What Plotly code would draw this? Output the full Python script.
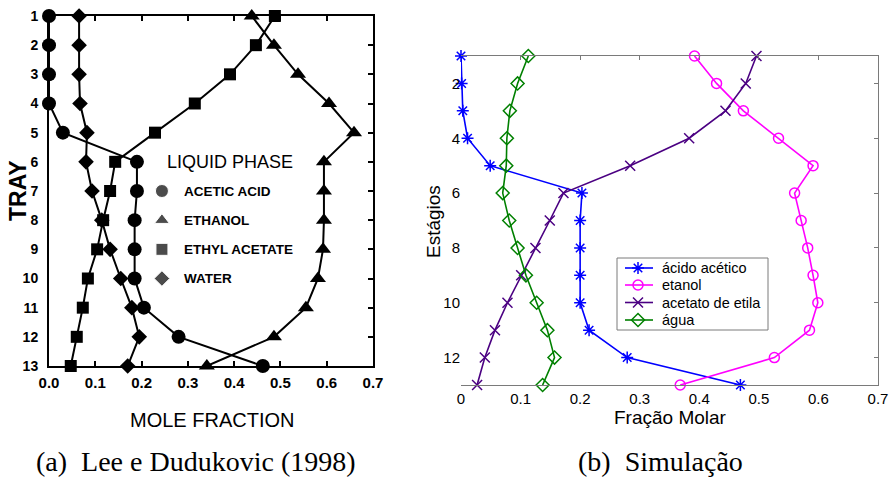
import plotly.graph_objects as go

# ---------------------------------------------------------------------------
# Data
# ---------------------------------------------------------------------------
trays = list(range(1, 14))

# (a) Lee e Dudukovic (1998) - liquid phase mole fractions per tray
lit_acetic_acid = [0.0, 0.0, 0.0, 0.0, 0.030, 0.190, 0.190, 0.185, 0.185, 0.185, 0.205, 0.280, 0.462]
lit_ethanol = [0.438, 0.486, 0.538, 0.605, 0.659, 0.594, 0.594, 0.594, 0.592, 0.581, 0.555, 0.486, 0.341]
lit_ethyl_acetate = [0.488, 0.447, 0.391, 0.315, 0.229, 0.143, 0.132, 0.117, 0.104, 0.084, 0.073, 0.060, 0.047]
lit_water = [0.065, 0.065, 0.065, 0.067, 0.082, 0.080, 0.093, 0.114, 0.132, 0.155, 0.179, 0.195, 0.170]

# (b) Simulação - fração molar por estágio
sim_acido_acetico = [0.0, 0.001, 0.003, 0.011, 0.049, 0.203, 0.200, 0.200, 0.200, 0.200, 0.215, 0.279, 0.469]
sim_etanol = [0.392, 0.429, 0.474, 0.533, 0.591, 0.560, 0.571, 0.582, 0.591, 0.599, 0.585, 0.526, 0.368]
sim_acetato_etila = [0.496, 0.478, 0.444, 0.383, 0.284, 0.172, 0.149, 0.125, 0.101, 0.078, 0.057, 0.040, 0.027]
sim_agua = [0.113, 0.095, 0.082, 0.077, 0.076, 0.070, 0.081, 0.095, 0.109, 0.127, 0.145, 0.157, 0.137]

x_ticks = [0.0, 0.1, 0.2, 0.3, 0.4, 0.5, 0.6, 0.7]
x_ticklabels_a = ["0.0", "0.1", "0.2", "0.3", "0.4", "0.5", "0.6", "0.7"]
x_ticklabels_b = ["0", "0.1", "0.2", "0.3", "0.4", "0.5", "0.6", "0.7"]
y_ticks_b = [2, 4, 6, 8, 10, 12]

lit_names = ["ACETIC ACID", "ETHANOL", "ETHYL ACETATE", "WATER"]
lit_symbols = ["circle", "triangle-up", "square", "diamond"]
lit_sizes = [14, 14, 12, 12]
lit_series = [lit_acetic_acid, lit_ethanol, lit_ethyl_acetate, lit_water]
lit_legend_rows = [7, 8, 9, 10]

sim_names = ["ácido acético", "etanol", "acetato de etila", "água"]
sim_symbols = ["asterisk-open", "circle-open", "x-thin-open", "diamond-open"]
sim_colors = ["#0000ff", "#ff00ff", "#4b0082", "#008000"]
sim_series = [sim_acido_acetico, sim_etanol, sim_acetato_etila, sim_agua]

SANS = "Liberation Sans, Arial, sans-serif"
SERIF = "Liberation Serif, Times New Roman, serif"
W, H = 890, 477


def px(x):
    return x / W


def py(y):
    return 1 - y / H


fig = go.Figure()

# ---------------------------------------------------------------------------
# Panel (a)
# ---------------------------------------------------------------------------
for vals, sym, size in zip(lit_series, lit_symbols, lit_sizes):
    fig.add_trace(go.Scatter(
        x=vals, y=trays, mode="lines+markers", xaxis="x", yaxis="y",
        line=dict(color="black", width=2),
        marker=dict(symbol=sym, size=size, color="black"),
        showlegend=False, cliponaxis=False, hoverinfo="skip",
    ))

# key inside panel (a)
fig.add_trace(go.Scatter(
    x=[0.244] * 4, y=lit_legend_rows, mode="markers", xaxis="x", yaxis="y",
    marker=dict(symbol=lit_symbols, size=[13, 13, 12, 12], color="black"),
    showlegend=False, hoverinfo="skip",
))
# overlay axis carrying the right-hand tick marks of panel (a)
fig.add_trace(go.Scatter(x=[None], y=[None], xaxis="x", yaxis="y3",
                         showlegend=False, hoverinfo="skip"))

# ---------------------------------------------------------------------------
# Panel (b)
# ---------------------------------------------------------------------------
for vals, name, sym, col in zip(sim_series, sim_names, sim_symbols, sim_colors):
    fig.add_trace(go.Scatter(
        x=vals, y=trays, mode="lines+markers", name=name, xaxis="x2", yaxis="y2",
        line=dict(color=col, width=1.6),
        marker=dict(symbol=sym, size=10, color=col, line=dict(color=col, width=1.5)),
        cliponaxis=False, hoverinfo="skip", showlegend=False,
    ))
# overlay axes carrying the top / right tick marks of panel (b)
fig.add_trace(go.Scatter(x=[None], y=[None], xaxis="x3", yaxis="y4",
                         showlegend=False, hoverinfo="skip"))

# legend box of panel (b): its own small coordinate frame (box units = pixels)
LEG_BOX = (617, 258, 768, 330)  # left, top, right, bottom
leg_w = LEG_BOX[2] - LEG_BOX[0]
leg_h = LEG_BOX[3] - LEG_BOX[1]
leg_rows = [10, 27, 44.5, 62]
for row, name, sym, col in zip(leg_rows, sim_names, sim_symbols, sim_colors):
    fig.add_trace(go.Scatter(
        x=[8, 36], y=[row, row], mode="lines", xaxis="x5", yaxis="y5",
        line=dict(color=col, width=1.6), showlegend=False, hoverinfo="skip"))
    fig.add_trace(go.Scatter(
        x=[21], y=[row], mode="markers", xaxis="x5", yaxis="y5",
        marker=dict(symbol=sym, size=10, color=col, line=dict(color=col, width=1.5)),
        showlegend=False, hoverinfo="skip"))

dom_xa = [px(49), px(373)]
dom_ya = [py(366), py(16)]
dom_xb = [px(461), px(878)]
dom_yb = [py(385), py(56)]
grey = "#7a7a7a"

fig.update_layout(
    width=W, height=H,
    margin=dict(l=0, r=0, t=0, b=0, autoexpand=False),
    paper_bgcolor="white", plot_bgcolor="rgba(0,0,0,0)",
    font=dict(family=SANS, color="black"),
    showlegend=False,
    xaxis=dict(
        domain=dom_xa, anchor="y", range=[0, 0.7], automargin=False,
        tickmode="array", tickvals=x_ticks, ticktext=x_ticklabels_a,
        ticks="inside", ticklen=5, tickwidth=1.5, tickcolor="black",
        showline=True, linecolor="black", linewidth=2, mirror="ticks",
        showgrid=False, zeroline=False, ticklabelstandoff=2,
        tickfont=dict(family=SANS, size=15, weight="bold", color="black"),
    ),
    yaxis=dict(
        domain=dom_ya, anchor="x", range=[13, 1], automargin=False,
        tickmode="array", tickvals=trays,
        ticks="", showline=True, linecolor="black", linewidth=2, mirror=True,
        showgrid=False, zeroline=False, ticklabelstandoff=6,
        tickfont=dict(family=SANS, size=14, weight="bold", color="black"),
    ),
    yaxis3=dict(
        overlaying="y", anchor="x", side="right", range=[13, 1], automargin=False,
        tickmode="array", tickvals=trays, ticks="inside", ticklen=5,
        tickwidth=1.5, tickcolor="black", showticklabels=False,
        showline=False, showgrid=False, zeroline=False,
    ),
    xaxis2=dict(
        domain=dom_xb, anchor="y2", range=[0, 0.7], automargin=False,
        tickmode="array", tickvals=x_ticks, ticktext=x_ticklabels_b,
        ticks="", showline=True, linecolor=grey, linewidth=1, mirror=True,
        showgrid=False, zeroline=False,
        tickfont=dict(family=SANS, size=15, color="black"),
    ),
    yaxis2=dict(
        domain=dom_yb, anchor="x2", range=[13, 1], automargin=False,
        tickmode="array", tickvals=y_ticks_b, ticks="",
        showline=False, showgrid=False, zeroline=False,
        tickfont=dict(family=SANS, size=15, color="black"),
    ),
    xaxis3=dict(
        overlaying="x2", anchor="y2", side="top", range=[0, 0.7], automargin=False,
        tickmode="array", tickvals=x_ticks, ticks="inside", ticklen=4,
        tickcolor=grey, showticklabels=False, showline=False,
        showgrid=False, zeroline=False,
    ),
    yaxis4=dict(
        overlaying="y2", anchor="x2", side="right", range=[13, 1], automargin=False,
        tickmode="array", tickvals=y_ticks_b, ticks="inside", ticklen=4,
        tickcolor=grey, showticklabels=False, showline=True,
        linecolor=grey, linewidth=1, showgrid=False, zeroline=False,
    ),
    xaxis5=dict(
        domain=[px(LEG_BOX[0]), px(LEG_BOX[2])], anchor="y5", range=[0, leg_w],
        visible=False, automargin=False, fixedrange=True,
    ),
    yaxis5=dict(
        domain=[py(LEG_BOX[3]), py(LEG_BOX[1])], anchor="x5", range=[leg_h, 0],
        visible=False, automargin=False, fixedrange=True,
    ),
    shapes=[dict(
        type="rect", xref="paper", yref="paper",
        x0=px(LEG_BOX[0]), x1=px(LEG_BOX[2]), y0=py(LEG_BOX[3]), y1=py(LEG_BOX[1]),
        line=dict(color=grey, width=1), fillcolor="white", layer="below",
    )],
)

annotations = [
    # panel (a) key
    dict(text="LIQUID PHASE", x=0.2506, y=6, xref="x", yref="y",
         xanchor="left", yanchor="middle", showarrow=False,
         font=dict(family=SANS, size=18, color="black")),
]
for row, name in zip(lit_legend_rows, lit_names):
    annotations.append(dict(
        text=name, x=0.287, y=row, xref="x", yref="y",
        xanchor="left", yanchor="middle", showarrow=False,
        font=dict(family=SANS, size=13.5, weight="bold", color="black")))

# panel (b) legend labels
for row, name in zip(leg_rows, sim_names):
    annotations.append(dict(
        text=name, x=43, y=row, xref="x5", yref="y5",
        xanchor="left", yanchor="middle", showarrow=False,
        font=dict(family=SANS, size=14.5, color="black")))

annotations += [
    dict(text="TRAY", x=px(18), y=py(191), xref="paper", yref="paper",
         textangle=-90, showarrow=False, xanchor="center", yanchor="middle",
         font=dict(family=SANS, size=23, weight="bold", color="black")),
    dict(text="MOLE FRACTION", x=px(212), y=py(420), xref="paper", yref="paper",
         showarrow=False, xanchor="center", yanchor="middle",
         font=dict(family=SANS, size=20, color="black")),
    dict(text="Estágios", x=px(433), y=py(222), xref="paper", yref="paper",
         textangle=-90, showarrow=False, xanchor="center", yanchor="middle",
         font=dict(family=SANS, size=19, color="black")),
    dict(text="Fração Molar", x=px(670), y=py(417), xref="paper", yref="paper",
         showarrow=False, xanchor="center", yanchor="middle",
         font=dict(family=SANS, size=19, color="black")),
    dict(text="(a)\u00a0\u00a0Lee e Dudukovic (1998)", x=px(196), y=py(461),
         xref="paper", yref="paper", showarrow=False,
         xanchor="center", yanchor="middle",
         font=dict(family=SERIF, size=28, color="black")),
    dict(text="(b)\u00a0\u00a0Simulação", x=px(660), y=py(461),
         xref="paper", yref="paper", showarrow=False,
         xanchor="center", yanchor="middle",
         font=dict(family=SERIF, size=28, color="black")),
]
fig.update_layout(annotations=annotations)

fig.write_html("out.html")
